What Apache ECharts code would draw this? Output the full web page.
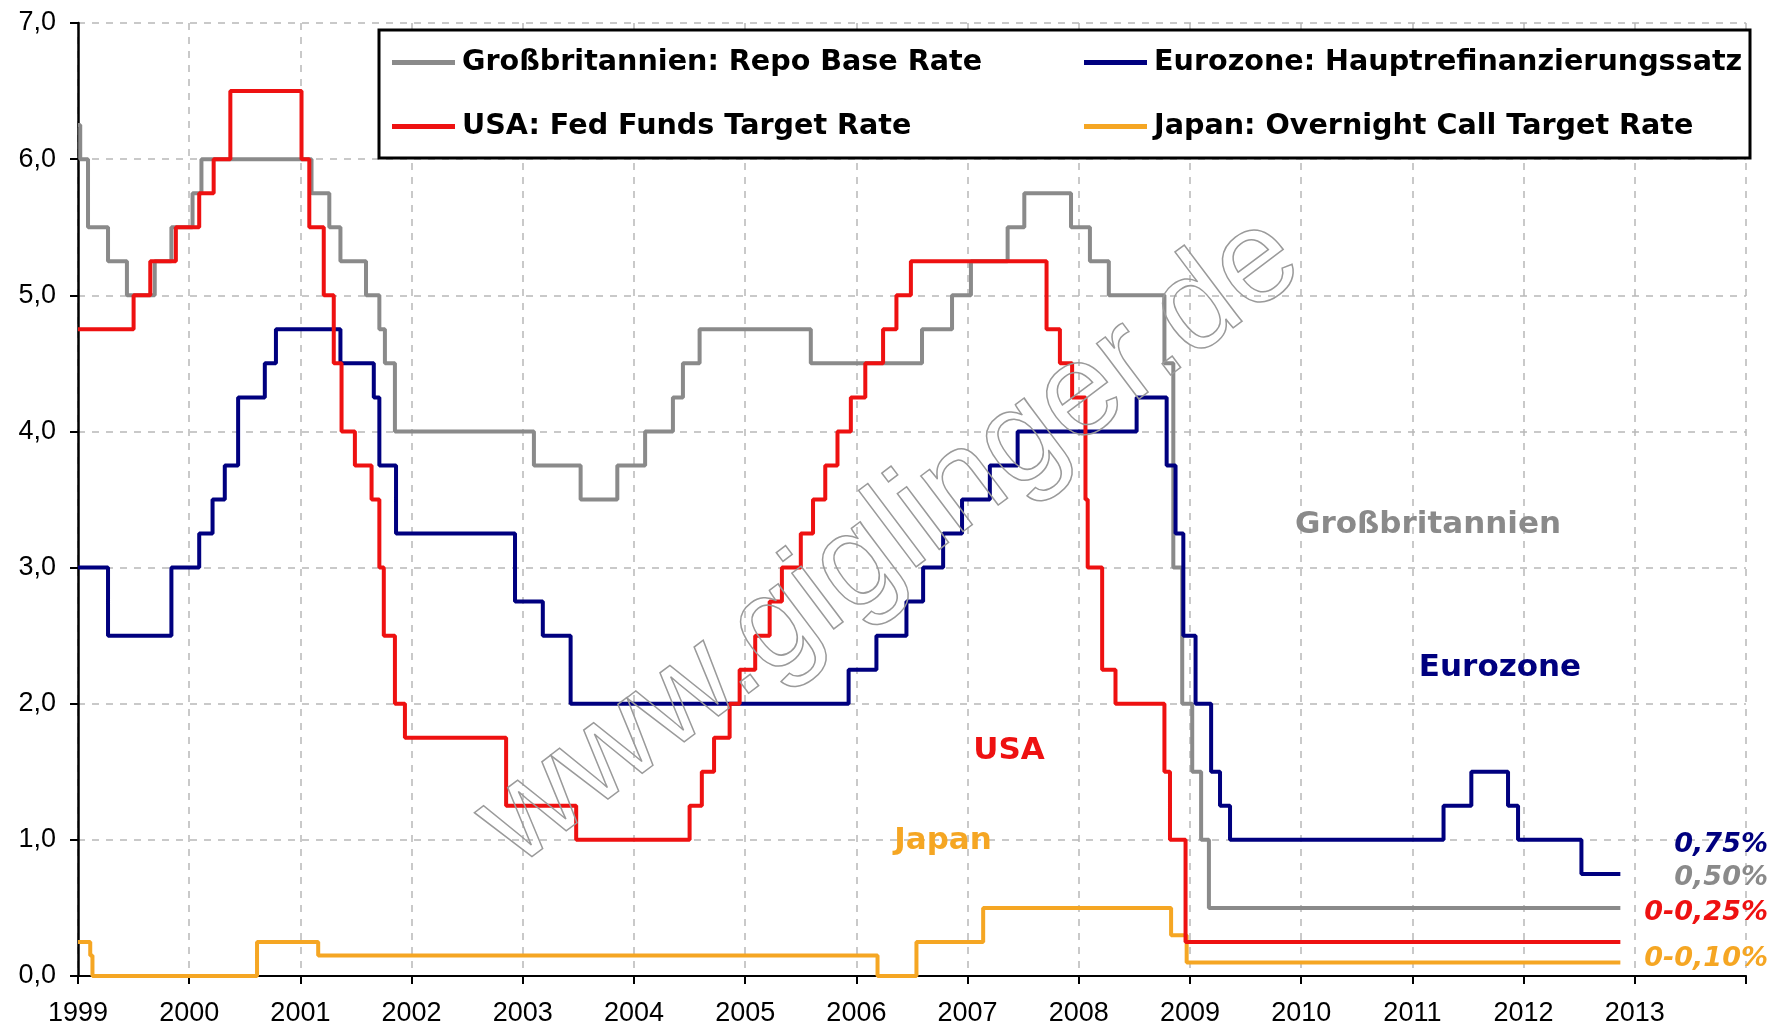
<!DOCTYPE html>
<html>
<head>
<meta charset="utf-8">
<script src="https://cdn.jsdelivr.net/npm/echarts@6/dist/echarts.min.js"></script>
<style>
html,body{margin:0;padding:0;background:#fff;}
#chart{width:1778px;height:1029px;}
</style>
</head>
<body>
<div id="chart"></div>
<script>
// ---- data (decimal year of rate change, new rate in %) ----
const gbName = 'Großbritannien: Repo Base Rate';
const euName = 'Eurozone: Hauptrefinanzierungssatz';
const usName = 'USA: Fed Funds Target Rate';
const jpName = 'Japan: Overnight Call Target Rate';

const gbX = [1999.00, 1999.02, 1999.09, 1999.27, 1999.44, 1999.69, 1999.84, 2000.03, 2000.11, 2001.10, 2001.26, 2001.36, 2001.59, 2001.71, 2001.76, 2001.85, 2003.10, 2003.52, 2003.85, 2004.10, 2004.35, 2004.44, 2004.59, 2005.59, 2006.59, 2006.86, 2007.03, 2007.36, 2007.51, 2007.93, 2008.10, 2008.27, 2008.77, 2008.85, 2008.93, 2009.02, 2009.10, 2009.17, 2012.87];
const gbY = [6.25, 6.00, 5.50, 5.25, 5.00, 5.25, 5.50, 5.75, 6.00, 5.75, 5.50, 5.25, 5.00, 4.75, 4.50, 4.00, 3.75, 3.50, 3.75, 4.00, 4.25, 4.50, 4.75, 4.50, 4.75, 5.00, 5.25, 5.50, 5.75, 5.50, 5.25, 5.00, 4.50, 3.00, 2.00, 1.50, 1.00, 0.50, 0.50];

const euX = [1999.00, 1999.27, 1999.84, 2000.09, 2000.21, 2000.32, 2000.44, 2000.68, 2000.78, 2001.36, 2001.66, 2001.71, 2001.86, 2002.93, 2003.18, 2003.43, 2005.93, 2006.18, 2006.45, 2006.60, 2006.78, 2006.95, 2007.20, 2007.45, 2008.52, 2008.79, 2008.87, 2008.94, 2009.05, 2009.19, 2009.27, 2009.36, 2011.28, 2011.53, 2011.86, 2011.95, 2012.52, 2012.87];
const euY = [3.00, 2.50, 3.00, 3.25, 3.50, 3.75, 4.25, 4.50, 4.75, 4.50, 4.25, 3.75, 3.25, 2.75, 2.50, 2.00, 2.25, 2.50, 2.75, 3.00, 3.25, 3.50, 3.75, 4.00, 4.25, 3.75, 3.25, 2.50, 2.00, 1.50, 1.25, 1.00, 1.25, 1.50, 1.25, 1.00, 0.75, 0.75];

const usX = [1999.00, 1999.50, 1999.65, 1999.88, 2000.09, 2000.22, 2000.37, 2001.01, 2001.08, 2001.21, 2001.30, 2001.37, 2001.49, 2001.64, 2001.71, 2001.75, 2001.85, 2001.94, 2002.85, 2003.48, 2004.50, 2004.61, 2004.72, 2004.86, 2004.95, 2005.09, 2005.22, 2005.33, 2005.50, 2005.61, 2005.72, 2005.83, 2005.95, 2006.08, 2006.24, 2006.36, 2006.49, 2007.71, 2007.83, 2007.94, 2008.06, 2008.08, 2008.21, 2008.33, 2008.77, 2008.82, 2008.96, 2012.87];
const usY = [4.75, 5.00, 5.25, 5.50, 5.75, 6.00, 6.50, 6.00, 5.50, 5.00, 4.50, 4.00, 3.75, 3.50, 3.00, 2.50, 2.00, 1.75, 1.25, 1.00, 1.25, 1.50, 1.75, 2.00, 2.25, 2.50, 2.75, 3.00, 3.25, 3.50, 3.75, 4.00, 4.25, 4.50, 4.75, 5.00, 5.25, 4.75, 4.50, 4.25, 3.50, 3.00, 2.25, 2.00, 1.50, 1.00, 0.25, 0.25];

const jpX = [1999.00, 1999.11, 1999.13, 2000.61, 2001.16, 2006.19, 2006.54, 2007.14, 2008.83, 2008.97, 2012.87];
const jpY = [0.25, 0.15, 0.00, 0.25, 0.15, 0.00, 0.25, 0.50, 0.30, 0.10, 0.10];

const yearLabels = ['1999','2000','2001','2002','2003','2004','2005','2006','2007','2008','2009','2010','2011','2012','2013'];
const yLabels = ['0,0','1,0','2,0','3,0','4,0','5,0','6,0','7,0'];

const endLabels = ['0,75%', '0,50%', '0-0,25%', '0-0,10%'];
const areaLabels = ['Großbritannien', 'Eurozone', 'USA', 'Japan'];
const watermark = 'www.giglinger.de';

// ---- styles ----
const cGB = '#8a8a8a', cEU = '#00007f', cUS = '#ee1111', cJP = '#f5a623';
const narrow = "'Liberation Sans Narrow', 'Liberation Sans', Arial, sans-serif";
const boldFont = "'DejaVu Sans', Verdana, sans-serif";

function zip(xs, ys) { return xs.map((x, i) => [x, ys[i]]); }

const chart = echarts.init(document.getElementById('chart'), null, {renderer: 'canvas'});

function lineSeries(name, xs, ys, color, z) {
  return {
    name: name, type: 'line', step: 'end', data: zip(xs, ys),
    symbol: 'none', z: z,
    lineStyle: {color: color, width: 4},
    itemStyle: {color: color},
    emphasis: {disabled: true}
  };
}

function legendItem(name, left, top) {
  return {
    data: [name], left: left, top: top, padding: 0, itemGap: 0,
    itemWidth: 63, itemHeight: 5, icon: 'rect', z: 6,
    selectedMode: false,
    textStyle: {fontFamily: boldFont, fontWeight: 'bold', fontSize: 28.6, color: '#000', padding: [0,0,0,2]}
  };
}

const option = {
  animation: false,
  backgroundColor: '#fff',
  grid: {left: 78, right: 32, top: 23, bottom: 53, containLabel: false},
  xAxis: {
    type: 'value', min: 1999, max: 2014, interval: 1,
    axisLine: {show: true, onZero: false, lineStyle: {color: '#000', width: 2}},
    axisTick: {show: true, length: 8, lineStyle: {color: '#000', width: 2}},
    axisLabel: {
      margin: 24, fontFamily: narrow, fontSize: 27, color: '#000',
      formatter: v => yearLabels[Math.round(v - 1999)] || ''
    },
    splitLine: {show: true, lineStyle: {color: '#b8b8b8', width: 1.5, type: [7, 7]}}
  },
  yAxis: {
    type: 'value', min: 0, max: 7, interval: 1,
    axisLine: {show: true, lineStyle: {color: '#000', width: 2.5}},
    axisTick: {show: true, length: 8, lineStyle: {color: '#000', width: 2}},
    axisLabel: {
      margin: 22, fontFamily: narrow, fontSize: 27, color: '#000',
      formatter: v => yLabels[Math.round(v)]
    },
    splitLine: {show: true, lineStyle: {color: '#b8b8b8', width: 1.5, type: [7, 7]}}
  },
  legend: [
    legendItem(gbName, 392, 48),
    legendItem(euName, 1084, 48),
    legendItem(usName, 392, 112),
    legendItem(jpName, 1084, 112)
  ],
  graphic: [
    {type: 'rect', z: 5, shape: {x: 379, y: 30, width: 1371, height: 128},
     style: {fill: '#fff', stroke: '#000', lineWidth: 3}},
    {type: 'text', z: 10, x: 890, y: 541, rotation: 0.646,
     style: {text: watermark, font: "132px 'Liberation Sans', Arial, sans-serif",
             fill: 'rgba(255,255,255,0)', stroke: '#9a9a9a', lineWidth: 1.5,
             textAlign: 'center', textVerticalAlign: 'middle'}},
    {type: 'text', z: 8, x: 1428, y: 525,
     style: {text: areaLabels[0], font: "bold 31px " + boldFont, fill: cGB, textAlign: 'center', textVerticalAlign: 'middle'}},
    {type: 'text', z: 8, x: 1500, y: 668,
     style: {text: areaLabels[1], font: "bold 31px " + boldFont, fill: cEU, textAlign: 'center', textVerticalAlign: 'middle'}},
    {type: 'text', z: 8, x: 1009, y: 751,
     style: {text: areaLabels[2], font: "bold 31px " + boldFont, fill: cUS, textAlign: 'center', textVerticalAlign: 'middle'}},
    {type: 'text', z: 8, x: 943, y: 841,
     style: {text: areaLabels[3], font: "bold 31px " + boldFont, fill: cJP, textAlign: 'center', textVerticalAlign: 'middle'}},
    {type: 'text', z: 8, x: 1768, y: 845,
     style: {text: endLabels[0], font: "italic bold 27px " + boldFont, fill: cEU, textAlign: 'right', textVerticalAlign: 'middle'}},
    {type: 'text', z: 8, x: 1768, y: 878,
     style: {text: endLabels[1], font: "italic bold 27px " + boldFont, fill: cGB, textAlign: 'right', textVerticalAlign: 'middle'}},
    {type: 'text', z: 8, x: 1768, y: 913,
     style: {text: endLabels[2], font: "italic bold 27px " + boldFont, fill: cUS, textAlign: 'right', textVerticalAlign: 'middle'}},
    {type: 'text', z: 8, x: 1768, y: 959,
     style: {text: endLabels[3], font: "italic bold 27px " + boldFont, fill: cJP, textAlign: 'right', textVerticalAlign: 'middle'}}
  ],
  series: [
    lineSeries(gbName, gbX, gbY, cGB, 2),
    lineSeries(euName, euX, euY, cEU, 3),
    lineSeries(usName, usX, usY, cUS, 4),
    lineSeries(jpName, jpX, jpY, cJP, 3)
  ]
};
chart.setOption(option);
</script>
</body>
</html>
